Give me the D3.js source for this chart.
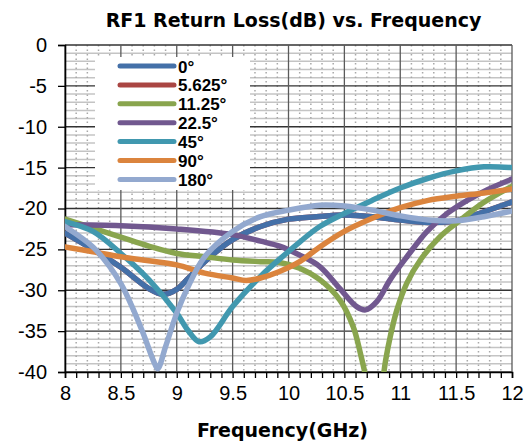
<!DOCTYPE html>
<html>
<head>
<meta charset="utf-8">
<script src="https://cdn.jsdelivr.net/npm/d3@7"></script>
<style>
  body { margin: 0; background: #fff; }
  svg { display: block; }
</style>
</head>
<body>
<script>
var width = 531;
var height = 446;
var margin = {top: 45, right: 19, bottom: 74, left: 65};

// ------- data -------------------------------

var seriesNames = ['0°', '5.625°', '11.25°', '22.5°', '45°', '90°', '180°'];
var colors = ['#4470A8', '#AA4643', '#89A54E', '#71588F', '#4198AF', '#DB843D', '#93A9CF'];

var xTicks = [8, 8.5, 9, 9.5, 10, 10.5, 11, 11.5, 12];
var yTicks = [0, -5, -10, -15, -20, -25, -30, -35, -40];

// [GHz, dB]
var deg0 = [[8,-23.0],[8.25,-25.0],[8.5,-27.2],[8.75,-29.8],[8.88,-30.5],[9.0,-29.9],[9.1,-28.6],
    [9.25,-26.5],[9.5,-23.8],[9.75,-22.2],[10,-21.3],[10.25,-21.0],[10.5,-20.8],[10.75,-21.0],
    [11,-21.4],[11.25,-21.7],[11.5,-21.5],[11.75,-20.4],[12,-19.2]];
// 5.625° sits right under the 0° trace, it is not visible anywhere
var deg5 = deg0;
var deg11 = [[8,-21.3],[8.25,-22.4],[8.5,-23.5],[8.75,-24.6],[9,-25.5],[9.25,-25.9],[9.5,-26.3],
    [9.75,-26.5],[9.92,-26.6],[10.1,-27.3],[10.28,-28.7],[10.46,-31.2],[10.58,-34.5],[10.65,-38.1],
    [10.72,-42],[10.78,-44],[10.83,-42],[10.87,-38.5],[10.91,-35.7],[10.97,-32.4],[11.06,-29.1],
    [11.18,-26.3],[11.36,-23.4],[11.54,-21.4],[11.71,-19.6],[11.89,-18.1],[12,-17.3]];
var deg22 = [[8,-22.0],[8.5,-22.1],[9,-22.5],[9.5,-23.2],[9.75,-24.0],[9.92,-24.6],[10.1,-25.7],
    [10.28,-27.1],[10.46,-29.8],[10.61,-32.0],[10.69,-32.4],[10.79,-31.4],[10.91,-28.7],[11.06,-25.9],
    [11.24,-22.8],[11.42,-20.6],[11.6,-19.0],[11.78,-17.7],[12,-16.4]];
var deg45 = [[8,-21.6],[8.25,-22.8],[8.5,-25.5],[8.75,-28.7],[9,-32.8],[9.1,-34.9],[9.2,-36.3],
    [9.3,-35.7],[9.5,-32.0],[9.75,-28.3],[9.92,-26.2],[10.1,-24.1],[10.28,-22.2],[10.5,-20.6],
    [10.75,-19.0],[11,-17.5],[11.25,-16.3],[11.5,-15.4],[11.75,-14.9],[12,-15.0]];
var deg90 = [[8,-24.7],[8.25,-25.3],[8.5,-25.9],[8.75,-26.4],[9,-26.9],[9.25,-27.9],[9.5,-28.5],
    [9.62,-28.8],[9.75,-28.5],[9.92,-27.7],[10.1,-26.5],[10.28,-24.7],[10.5,-22.8],[10.75,-21.2],
    [11,-19.9],[11.25,-19.0],[11.5,-18.5],[11.75,-18.1],[12,-17.6]];
var deg180 = [[8,-22.2],[8.25,-24.7],[8.4,-27.1],[8.5,-29.2],[8.6,-32.0],[8.7,-35.3],[8.8,-38.9],
    [8.83,-39.6],[8.9,-36.9],[9,-32.8],[9.1,-29.6],[9.25,-25.9],[9.5,-22.8],[9.75,-21.0],[10,-20.2],
    [10.28,-19.6],[10.5,-19.7],[10.75,-20.2],[11,-20.9],[11.25,-21.4],[11.5,-21.5],[11.75,-21.0],[12,-20.3]];

var series = [deg0, deg5, deg11, deg22, deg45, deg90, deg180];
// drawing order: red first so the blue trace covers it
var drawOrder = [1, 0, 2, 3, 4, 5, 6];

// ------- SVG --------

var svg = d3.select('body')
    .append('svg')
    .attr('width', width)
    .attr('height', height);

var x = d3.scaleLinear().domain([8, 12]).range([margin.left, width - margin.right]),
    y = d3.scaleLinear().domain([-40, 0]).range([height - margin.bottom, margin.top]);

// minor grid
var minorY = d3.range(-39, 0).filter(function(d) { return d % 5 !== 0; });
svg.append('g').selectAll('line')
    .data(minorY)
    .enter()
    .append('line')
    .attr('x1', x(8)).attr('x2', x(12))
    .attr('y1', function(d) { return y(d); })
    .attr('y2', function(d) { return y(d); })
    .attr('stroke', '#c4c4c4')
    .attr('stroke-width', 1.5);

var minorX = d3.range(81, 120).map(function(d) { return d / 10; })
    .filter(function(d) { return Math.round(d * 10) % 5 !== 0; });
svg.append('g').selectAll('line')
    .data(minorX)
    .enter()
    .append('line')
    .attr('x1', function(d) { return x(d); })
    .attr('x2', function(d) { return x(d); })
    .attr('y1', y(0)).attr('y2', y(-40))
    .attr('stroke', '#a8a8a8')
    .attr('stroke-width', 1.5)
    .attr('stroke-dasharray', '1.5,3');

// major grid
svg.append('g').selectAll('line')
    .data(yTicks)
    .enter()
    .append('line')
    .attr('x1', x(8)).attr('x2', x(12))
    .attr('y1', function(d) { return y(d); })
    .attr('y2', function(d) { return y(d); })
    .attr('stroke', '#333')
    .attr('stroke-width', 1.3);

svg.append('g').selectAll('line')
    .data(xTicks)
    .enter()
    .append('line')
    .attr('x1', function(d) { return x(d); })
    .attr('x2', function(d) { return x(d); })
    .attr('y1', y(0)).attr('y2', y(-40))
    .attr('stroke', '#5a5a5a')
    .attr('stroke-width', 1.3);

// axes
var xAxis = d3.axisBottom(x)
    .tickValues(d3.range(80, 121).map(function(d) { return d / 10; }))
    .tickSize(6)
    .tickFormat(function(d) { return xTicks.indexOf(d) >= 0 ? String(d) : ''; });

var gx = svg.append('g')
    .attr('transform', 'translate(0,' + y(-40) + ')')
    .call(xAxis);
gx.select('.domain').attr('stroke', '#000').attr('stroke-width', 1.6);
gx.selectAll('.tick line').attr('stroke', '#000').attr('stroke-width', 1.3);
gx.selectAll('.tick text')
    .attr('y', 14)
    .attr('dy', '0.71em')
    .style('font-family', 'Liberation Sans, Arial, sans-serif')
    .style('font-size', '20px')
    .attr('fill', '#000');

var yAxis = d3.axisLeft(y)
    .tickValues(yTicks)
    .tickSize(7)
    .tickPadding(11)
    .tickFormat(function(d) { return String(d); });

var gy = svg.append('g')
    .attr('transform', 'translate(' + x(8) + ',0)')
    .call(yAxis);
gy.select('.domain').attr('stroke', '#000').attr('stroke-width', 1.6);
gy.selectAll('.tick line').attr('stroke', '#000').attr('stroke-width', 1.3);
gy.selectAll('.tick text')
    .style('font-family', 'Liberation Sans, Arial, sans-serif')
    .style('font-size', '20px')
    .attr('fill', '#000');

// clip to plot area
svg.append('clipPath')
    .attr('id', 'plot')
    .append('rect')
    .attr('x', x(8)).attr('y', y(0))
    .attr('width', x(12) - x(8))
    .attr('height', y(-40) - y(0));

var line = d3.line()
    .x(function(d) { return x(d[0]); })
    .y(function(d) { return y(d[1]); })
    .curve(d3.curveCatmullRom.alpha(0.5));

svg.append('g')
    .attr('clip-path', 'url(#plot)')
    .selectAll('path')
    .data(drawOrder)
    .enter()
    .append('path')
    .attr('d', function(i) { return line(series[i]); })
    .attr('fill', 'none')
    .attr('stroke', function(i) { return colors[i]; })
    .attr('stroke-width', 5.5)
    .attr('stroke-linejoin', 'round')
    .attr('stroke-linecap', 'round');

// legend
var legend = svg.append('g');
legend.append('rect')
    .attr('x', 95).attr('y', 57)
    .attr('width', 155).attr('height', 133)
    .attr('fill', '#fff');

var rows = legend.selectAll('g.row')
    .data(seriesNames)
    .enter()
    .append('g')
    .attr('class', 'row')
    .attr('transform', function(d, i) { return 'translate(0,' + (66 + i * 18.9) + ')'; });

rows.append('line')
    .attr('x1', 120).attr('x2', 174)
    .attr('y1', 0).attr('y2', 0)
    .attr('stroke', function(d, i) { return colors[i]; })
    .attr('stroke-width', 5)
    .attr('stroke-linecap', 'round');

rows.append('text')
    .attr('x', 178)
    .attr('y', 6.5)
    .style('font-family', 'Liberation Sans, Arial, sans-serif')
    .style('font-size', '17px')
    .style('font-weight', 'bold')
    .text(function(d) { return d; });

// titles
svg.append('text')
    .attr('x', 293.5)
    .attr('y', 27)
    .attr('text-anchor', 'middle')
    .style('font-family', 'DejaVu Sans, Verdana, sans-serif')
    .style('font-size', '19px')
    .style('font-weight', 'bold')
    .text('RF1 Return Loss(dB) vs. Frequency');

svg.append('text')
    .attr('x', 282.5)
    .attr('y', 437)
    .attr('text-anchor', 'middle')
    .style('font-family', 'DejaVu Sans, Verdana, sans-serif')
    .style('font-size', '19px')
    .style('font-weight', 'bold')
    .text('Frequency(GHz)');
</script>
</body>
</html>
